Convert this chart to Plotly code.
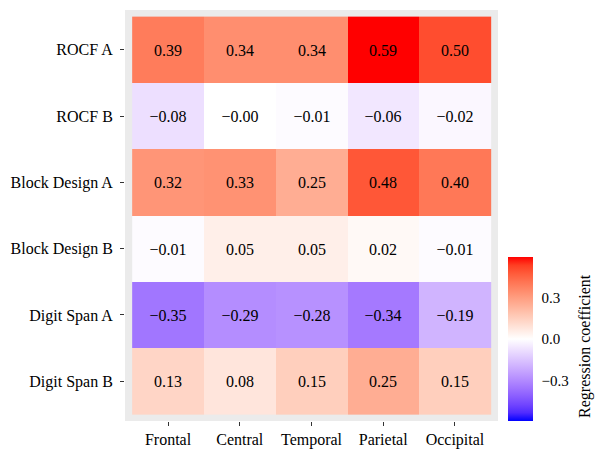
import math
import plotly.graph_objects as go
import numpy as np

regions = ["Frontal", "Central", "Temporal", "Parietal", "Occipital"]
tests = ["ROCF A", "ROCF B", "Block Design A", "Block Design B", "Digit Span A", "Digit Span B"]
values = [
    [0.39, 0.34, 0.34, 0.59, 0.50],
    [-0.08, -0.00, -0.01, -0.06, -0.02],
    [0.32, 0.33, 0.25, 0.48, 0.40],
    [-0.01, 0.05, 0.05, 0.02, -0.01],
    [-0.35, -0.29, -0.28, -0.34, -0.19],
    [0.13, 0.08, 0.15, 0.25, 0.15],
]
cbar_ticks = [-0.3, 0.0, 0.3]
cbar_labels = ["\u22120.3", "0.0", "0.3"]
zlim = 0.59

# ---- Lab interpolation (like ggplot's scale_fill_gradient2) ----
def srgb_to_lin(c):
    c = np.asarray(c, float)
    return np.where(c <= 0.04045, c / 12.92, ((c + 0.055) / 1.055) ** 2.4)

def lin_to_srgb(c):
    c = np.clip(c, 0, 1)
    return np.where(c <= 0.0031308, 12.92 * c, 1.055 * c ** (1 / 2.4) - 0.055)

M = np.array([[0.4124564, 0.3575761, 0.1804375],
              [0.2126729, 0.7151522, 0.0721750],
              [0.0193339, 0.1191920, 0.9503041]])
Minv = np.linalg.inv(M)
WP = np.array([0.95047, 1.0, 1.08883])

def f(t):
    d = 6 / 29
    return np.where(t > d ** 3, np.cbrt(t), t / (3 * d * d) + 4 / 29)

def finv(t):
    d = 6 / 29
    return np.where(t > d, t ** 3, 3 * d * d * (t - 4 / 29))

def rgb_to_lab(rgb):
    xyz = M @ srgb_to_lin(np.array(rgb) / 255.0) / WP
    fx, fy, fz = f(xyz)
    return np.array([116 * fy - 16, 500 * (fx - fy), 200 * (fy - fz)])

def lab_to_rgb(lab):
    L, a, b = lab
    fy = (L + 16) / 116
    fx = fy + a / 500
    fz = fy - b / 200
    xyz = np.array([finv(fx), finv(fy), finv(fz)]) * WP
    rgb = lin_to_srgb(Minv @ xyz) * 255
    return "rgb(%d,%d,%d)" % tuple(np.round(rgb).astype(int))

low = rgb_to_lab((0, 0, 255))
mid = rgb_to_lab((255, 255, 255))
high = rgb_to_lab((255, 0, 0))
colorscale = []
n = 20
for i in range(n + 1):
    t = i / n
    if t <= 0.5:
        lab = low + (mid - low) * (t / 0.5)
    else:
        lab = mid + (high - mid) * ((t - 0.5) / 0.5)
    colorscale.append([t, lab_to_rgb(lab)])

def fmt(v):
    s = "%.2f" % abs(v)
    return ("\u2212" + s) if math.copysign(1, v) < 0 else s

text = [[fmt(v) for v in row] for row in values]

font = "Liberation Serif"
fig = go.Figure(go.Heatmap(
    z=values, x=regions, y=tests, text=text, texttemplate="%{text}",
    textfont=dict(family=font, size=16, color="black"),
    colorscale=colorscale, zmin=-zlim, zmax=zlim,
    colorbar=dict(
        tickvals=cbar_ticks, ticktext=cbar_labels,
        tickfont=dict(family=font, size=15, color="black"),
        ticks="outside", ticklen=6, tickcolor="white",
        thickness=25, lenmode="pixels", len=164,
        x=1.027, xanchor="left", xpad=0, y=0, yanchor="bottom", ypad=0,
        outlinewidth=0,
    ),
))
# page body has an 8px default margin; figure is shrunk so the plot sits where the reference has it
fig.update_layout(
    width=597, height=450,
    margin=dict(l=117, r=107, t=2, b=37),
    plot_bgcolor="#EBEBEB", paper_bgcolor="white",
    font=dict(family=font, size=16, color="black"),
    xaxis=dict(range=[-0.6, 4.6], showgrid=False, zeroline=False,
               ticks="outside", ticklen=4, tickcolor="#333333",
               ticklabelstandoff=0,
               tickfont=dict(family=font, size=16, color="black")),
    yaxis=dict(range=[5.6, -0.6], showgrid=False, zeroline=False,
               ticks="outside", ticklen=4, tickcolor="#333333",
               ticklabelstandoff=4,
               tickfont=dict(family=font, size=16, color="black")),
    annotations=[dict(
        text="Regression coefficient", textangle=-90, showarrow=False,
        xref="paper", yref="paper", x=1.233, y=0.1825,
        xanchor="center", yanchor="middle",
        font=dict(family=font, size=16, color="black"),
    )],
)
fig.write_html("out.html")
